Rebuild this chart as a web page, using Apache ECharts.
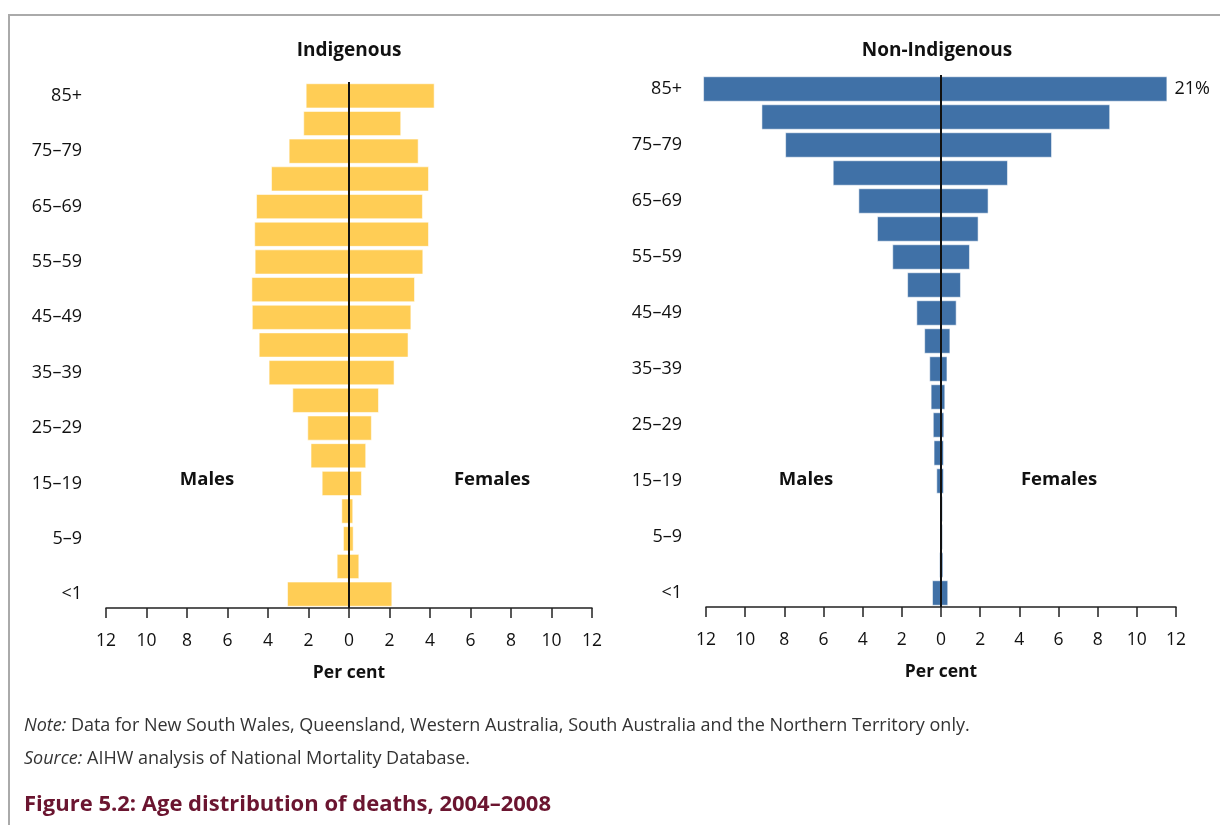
<!DOCTYPE html>
<html>
<head>
<meta charset="utf-8">
<script src="https://cdn.jsdelivr.net/npm/echarts@6/dist/echarts.min.js"></script>
<style>
html,body{margin:0;padding:0;background:#fff;}
#c{width:1220px;height:825px;}
</style>
</head>
<body>
<div id="c"></div>
<script>
// Age groups, bottom to top
var ageGroups = ['<1','1–4','5–9','10–14','15–19','20–24','25–29','30–34','35–39','40–44','45–49','50–54','55–59','60–64','65–69','70–74','75–79','80–84','85+'];

// Indigenous (per cent)
var indigMales   = [3.06,0.61,0.30,0.38,1.35,1.90,2.06,2.80,3.97,4.46,4.80,4.82,4.66,4.68,4.59,3.85,2.98,2.26,2.14];
var indigFemales = [2.14,0.51,0.23,0.21,0.64,0.85,1.13,1.48,2.25,2.94,3.08,3.26,3.67,3.95,3.65,3.95,3.44,2.58,4.23];

// Non-Indigenous (per cent); 85+ female bar is drawn broken at the axis end, actual value labelled
var nonIndigMales   = [0.46,0.09,0.05,0.05,0.24,0.38,0.42,0.53,0.60,0.86,1.26,1.73,2.49,3.27,4.22,5.53,7.96,9.17,12.15];
var nonIndigFemales = [0.37,0.12,0.10,0.10,0.15,0.15,0.17,0.22,0.33,0.48,0.80,1.02,1.48,1.92,2.43,3.42,5.67,8.64,11.56];
var nonIndigFemale85Label = '21%';

var xTicks = { min: -12, max: 12, interval: 2 };

var FONT = '"Open Sans", "Noto Sans", sans-serif';
var YELLOW = '#FFCD55';
var BLUE = '#4071A7';

function neg(arr){ return arr.map(function(v){ return -v; }); }

function xAxisDef(gi){
  return {
    type: 'value', gridIndex: gi, min: xTicks.min, max: xTicks.max, interval: xTicks.interval,
    name: 'Per cent', nameLocation: 'middle', nameGap: 56,
    nameTextStyle: { fontFamily: FONT, fontSize: 17.5, fontWeight: 'bold', color: '#111' },
    axisLine: { show: true, onZero: false, lineStyle: { color: '#222', width: 1.5 } },
    axisTick: { show: true, length: 10, lineStyle: { color: '#222', width: 1.5 } },
    axisLabel: { margin: 24, fontFamily: FONT, fontSize: 17.5, color: '#111',
      formatter: function(v){ return Math.abs(v); } },
    splitLine: { show: false }
  };
}
function yAxisDef(gi){
  return {
    type: 'category', gridIndex: gi, data: ageGroups,
    axisLine: { show: false }, axisTick: { show: false },
    axisLabel: { interval: 1, margin: 24, fontFamily: FONT, fontSize: 18, color: '#111' }
  };
}
var barCommon = {
  type: 'bar', barGap: '-100%', barCategoryGap: '9%', animation: false,
  itemStyle: { borderColor: 'rgba(255,255,255,0.55)', borderWidth: 1 }
};
function centerLine(){
  return { silent: true, symbol: 'none', animation: false, label: { show: false },
    lineStyle: { color: '#111', width: 2, type: 'solid' }, data: [{ xAxis: 0 }] };
}

var chart = echarts.init(document.getElementById('c'), null, { renderer: 'canvas' });
chart.setOption({
  backgroundColor: '#fff',
  grid: [
    { left: 106, right: 628, top: 82, bottom: 217 },
    { left: 706, right: 44, top: 75, bottom: 218 }
  ],
  xAxis: [xAxisDef(0), xAxisDef(1)],
  yAxis: [yAxisDef(0), yAxisDef(1)],
  series: [
    Object.assign({}, barCommon, { name: 'Indigenous males', xAxisIndex: 0, yAxisIndex: 0,
      data: neg(indigMales), itemStyle: Object.assign({}, barCommon.itemStyle, { color: YELLOW }) }),
    Object.assign({}, barCommon, { name: 'Indigenous females', xAxisIndex: 0, yAxisIndex: 0,
      data: indigFemales, itemStyle: Object.assign({}, barCommon.itemStyle, { color: YELLOW }),
      markLine: centerLine() }),
    Object.assign({}, barCommon, { name: 'Non-Indigenous males', xAxisIndex: 1, yAxisIndex: 1, clip: false,
      data: neg(nonIndigMales), itemStyle: Object.assign({}, barCommon.itemStyle, { color: BLUE }) }),
    Object.assign({}, barCommon, { name: 'Non-Indigenous females', xAxisIndex: 1, yAxisIndex: 1,
      data: nonIndigFemales.map(function(v, i){
        if (i === ageGroups.length - 1) {
          return { value: v, label: { show: true, position: 'right', distance: 7, formatter: nonIndigFemale85Label,
            fontFamily: FONT, fontSize: 18, color: '#111' } };
        }
        return v;
      }),
      itemStyle: Object.assign({}, barCommon.itemStyle, { color: BLUE }),
      markLine: centerLine() })
  ],
  graphic: [
    { type: 'polyline', silent: true, shape: { points: [[9, 825], [9, 15], [1220, 15]] },
      style: { stroke: '#aaaaaa', lineWidth: 2, fill: null } },
    { type: 'text', x: 349, y: 51, style: { text: 'Indigenous', align: 'center', verticalAlign: 'middle',
      font: 'bold 19px ' + FONT, fill: '#111' } },
    { type: 'text', x: 937, y: 51, style: { text: 'Non-Indigenous', align: 'center', verticalAlign: 'middle',
      font: 'bold 19px ' + FONT, fill: '#111' } },
    { type: 'text', x: 207, y: 480, style: { text: 'Males', align: 'center', verticalAlign: 'middle',
      font: 'bold 18.5px ' + FONT, fill: '#111' } },
    { type: 'text', x: 492, y: 480, style: { text: 'Females', align: 'center', verticalAlign: 'middle',
      font: 'bold 18.5px ' + FONT, fill: '#111' } },
    { type: 'text', x: 806, y: 480, style: { text: 'Males', align: 'center', verticalAlign: 'middle',
      font: 'bold 18.5px ' + FONT, fill: '#111' } },
    { type: 'text', x: 1059, y: 480, style: { text: 'Females', align: 'center', verticalAlign: 'middle',
      font: 'bold 18.5px ' + FONT, fill: '#111' } },
    { type: 'text', x: 24, y: 726, style: {
      text: '{i|Note:} Data for New South Wales, Queensland, Western Australia, South Australia and the Northern Territory only.',
      verticalAlign: 'middle', font: '18px ' + FONT, fill: '#333',
      rich: { i: { fontStyle: 'italic', fontFamily: FONT, fontSize: 18, fill: '#333' } } } },
    { type: 'text', x: 24, y: 759, style: {
      text: '{i|Source:} AIHW analysis of National Mortality Database.',
      verticalAlign: 'middle', font: '18px ' + FONT, fill: '#333',
      rich: { i: { fontStyle: 'italic', fontFamily: FONT, fontSize: 18, fill: '#333' } } } },
    { type: 'text', x: 24, y: 805, style: { text: 'Figure 5.2: Age distribution of deaths, 2004–2008',
      verticalAlign: 'middle', font: 'bold 22px ' + FONT, fill: '#6B1530' } }
  ]
});
</script>
</body>
</html>
